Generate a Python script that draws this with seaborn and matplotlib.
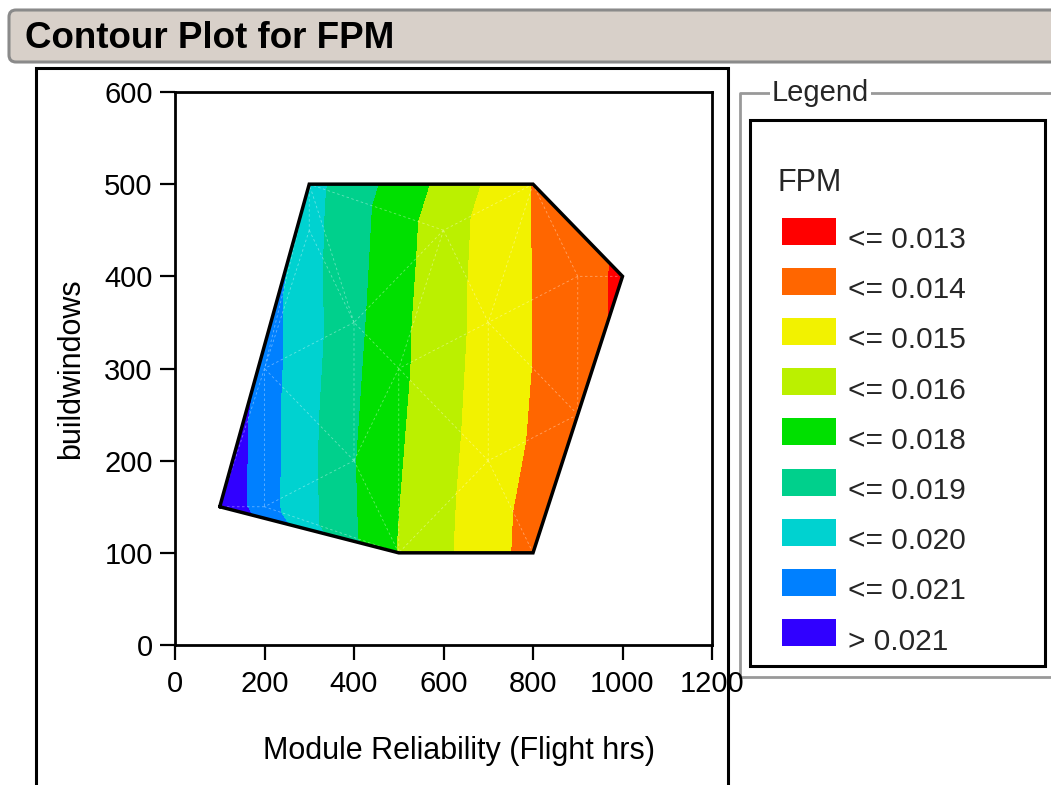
import numpy as np
import matplotlib
matplotlib.use("Agg")
import matplotlib.pyplot as plt
import matplotlib.tri as mtri
from matplotlib.patches import Rectangle, FancyBboxPatch
import seaborn as sns

# ---------------- data ----------------
module_reliability = [100, 200, 200, 300, 300, 400, 400, 500, 500, 600, 700, 700, 800, 800, 900, 900, 1000]
buildwindows = [150, 150, 300, 450, 500, 350, 200, 100, 300, 450, 350, 200, 500, 100, 400, 250, 400]
fpm = [0.0220, 0.0203, 0.02035, 0.01908, 0.0191, 0.01783, 0.0176, 0.01635, 0.01665,
       0.01578, 0.01483, 0.01467, 0.0141, 0.0137, 0.0134, 0.0134, 0.0128]
hull_order = [0, 4, 12, 16, 15, 13, 7, 0]

contour_levels = [0.0130, 0.01414, 0.01528, 0.01642, 0.01756, 0.0187, 0.01984, 0.02098]
legend_labels = ["<= 0.013", "<= 0.014", "<= 0.015", "<= 0.016", "<= 0.018",
                 "<= 0.019", "<= 0.020", "<= 0.021", "> 0.021"]
band_colors = ["#FF0000", "#FF6600", "#F2F200", "#BBF000", "#00E000",
               "#00D08C", "#00D2D0", "#0080FF", "#3000FF"]
x_ticks = [0, 200, 400, 600, 800, 1000, 1200]
y_ticks = [0, 100, 200, 300, 400, 500, 600]

# ---------------- style ----------------
sns.set_theme(style="white")
plt.rcParams["font.family"] = ["Liberation Sans", "DejaVu Sans"]
palette = sns.color_palette(band_colors)

W, H = 1051, 785
fig = plt.figure(figsize=(W / 100, H / 100), dpi=100)
fig.patch.set_facecolor("white")

# pixel-coordinate overlay for decorations
ov = fig.add_axes([0, 0, 1, 1], zorder=0)
ov.set_xlim(0, W)
ov.set_ylim(H, 0)
ov.axis("off")

# title bar
ov.add_patch(FancyBboxPatch((9, 10), 1100, 52, boxstyle="round,pad=0,rounding_size=7",
                            facecolor="#D8D0C9", edgecolor="#8A8A8A", lw=2.2))
ov.text(25, 38, "Contour Plot for FPM", fontsize=26.5, fontweight="bold",
        ha="left", va="center", color="black")

# outer plot frame
ov.plot([36, 36, 728, 728], [800, 68, 68, 800], color="black", lw=2.2, solid_joinstyle="miter")

# legend outer (gray) frame
ov.plot([1060, 740, 740, 1060], [93, 93, 677, 677], color="#999999", lw=2)
ov.text(772, 93, "Legend", fontsize=21, ha="left", va="center",
        bbox=dict(facecolor="white", edgecolor="none", pad=1.5))
# legend inner (black) frame
ov.add_patch(Rectangle((750, 120), 295, 546, facecolor="white", edgecolor="black", lw=2.2))
ov.text(778, 183, "FPM", fontsize=22, ha="left", va="center")
for i, lab in enumerate(legend_labels):
    yc = 231 + i * 50.2
    ov.add_patch(Rectangle((782, yc - 13.5), 54, 27, facecolor=palette[i], edgecolor="none"))
    ov.text(848, yc + 9, lab, fontsize=21.5, ha="left", va="center")

# ---------------- main axes ----------------
ax = fig.add_axes([175 / W, 1 - 645 / H, (712 - 175) / W, (645 - 92) / H], zorder=1)
ax.set_facecolor("white")

tri = mtri.Triangulation(module_reliability, buildwindows)
levels = [min(fpm) - 0.001] + contour_levels + [max(fpm) + 0.001]
ax.tricontourf(tri, fpm, levels=levels, colors=palette)
ax.triplot(tri, color="white", lw=0.6, ls=(0, (3, 3)), alpha=0.4)

hx = [module_reliability[i] for i in hull_order]
hy = [buildwindows[i] for i in hull_order]
ax.plot(hx, hy, color="black", lw=2.5, solid_joinstyle="miter")

ax.set_xlim(0, 1200)
ax.set_ylim(0, 600)
ax.set_xticks(x_ticks)
ax.set_yticks(y_ticks)
ax.tick_params(axis="both", direction="out", length=11, width=1.6, color="black",
               labelsize=21, labelcolor="black", bottom=True, left=True)
ax.tick_params(axis="x", pad=7)
ax.tick_params(axis="y", pad=5)
for s in ax.spines.values():
    s.set_visible(True)
    s.set_color("black")
    s.set_linewidth(2)

ax.set_xlabel("Module Reliability (Flight hrs)", fontsize=22, color="black")
ax.set_ylabel("buildwindows", fontsize=22, color="black")
ax.xaxis.set_label_coords((459 - 175) / 537, (645 - 736) / 553)
ax.yaxis.set_label_coords((86 - 175) / 537, 0.5)

fig.savefig("out.png", dpi=100, facecolor="white")
